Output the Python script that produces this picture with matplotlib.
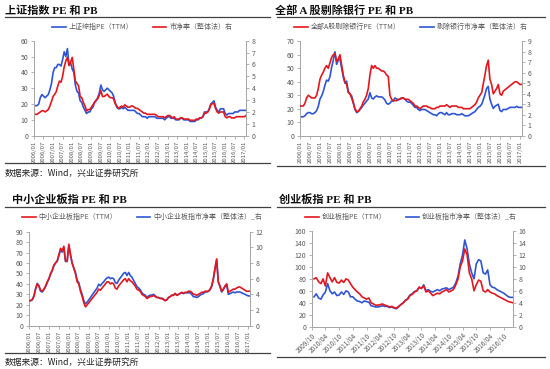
import matplotlib
matplotlib.use("Agg")
import matplotlib.pyplot as plt
import matplotlib.dates as mdates
from matplotlib.lines import Line2D
import pandas as pd

plt.rcParams['font.family'] = ['Noto Sans CJK SC', 'DejaVu Sans']

# ---------------- data (monthly) ----------------
sh_pe = [19,19,19,20,24,26,25,24,25,26,29,33,
         40,43,43,45,45,44,48,53,50,55,45,46,
         42,40,32,28,27,22,21,18,16,14,15,15,
         17,18,21,22,24,27,32,29,28,29,30,29,
         28,27,25,21,18,17,17,18,17,18,17,16,
         16,16,16,16,15,14,14,13,12,12,12,11,
         12,12,12,12,12,11,11,11,11,11,10,11,
         12,12,11,11,11,10,10,10,11,11,10,10,
         10,10,9,9,9,9,10,10,11,11,12,15,
         15,15,17,20,21,22,18,16,15,17,17,17,
         14,13,14,14,14,14,15,15,15,16,16,16,
         16,16]
sh_pb = [1.8,1.8,1.8,1.9,2.0,2.1,2.1,2.0,2.1,2.2,2.5,2.9,
         3.3,3.5,3.7,4.2,4.6,4.5,5.0,5.8,6.3,6.6,5.9,6.2,
         6.6,5.6,4.6,4.4,4.2,3.3,3.2,2.8,2.5,2.1,2.2,2.2,
         2.4,2.6,2.8,3.0,3.1,3.4,3.8,3.3,3.3,3.4,3.5,3.3,
         3.2,3.2,3.1,2.7,2.5,2.3,2.4,2.5,2.4,2.6,2.5,2.4,
         2.4,2.5,2.5,2.4,2.3,2.3,2.2,2.1,2.0,1.9,1.9,1.8,
         1.8,1.8,1.8,1.8,1.8,1.7,1.6,1.6,1.6,1.6,1.5,1.6,
         1.7,1.7,1.6,1.5,1.6,1.4,1.4,1.4,1.5,1.5,1.4,1.4,
         1.4,1.4,1.3,1.3,1.3,1.3,1.4,1.4,1.5,1.5,1.6,1.9,
         1.9,2.0,2.2,2.6,2.7,2.7,2.3,2.0,1.9,2.0,2.0,2.0,
         1.6,1.5,1.6,1.6,1.5,1.5,1.5,1.6,1.6,1.6,1.6,1.6,
         1.6,1.7]

exb_pe = [22,22,22,24,28,30,29,28,28,28,30,35,
          42,45,47,50,52,50,54,58,60,61,55,57,
          60,52,45,40,38,32,31,28,24,20,18,18,
          20,22,25,27,30,35,45,52,50,52,50,50,
          49,48,48,47,45,44,30,27,26,26,26,27,
          27,28,28,27,27,27,26,25,24,22,22,21,
          20,21,22,22,22,21,21,20,20,20,21,21,
          22,22,22,22,23,22,21,22,22,22,22,21,
          21,21,20,20,20,20,20,21,22,23,25,28,
          30,32,38,45,52,56,42,38,31,33,35,38,
          31,30,33,34,35,36,37,38,39,40,40,39,
          38,38]
exb_pb = [1.8,1.8,1.8,1.9,2.1,2.2,2.2,2.1,2.1,2.2,2.4,2.8,
          3.5,3.8,4.2,4.8,5.3,5.2,5.6,6.5,7.2,8.0,6.8,7.2,
          7.3,6.4,5.6,5.0,5.2,4.2,4.0,3.8,3.2,2.5,2.2,2.3,
          2.5,2.7,2.9,3.1,3.3,3.5,4.1,3.6,3.5,3.7,3.8,3.7,
          3.7,3.7,3.6,3.4,3.1,3.0,3.1,3.3,3.3,3.6,3.5,3.4,
          3.5,3.6,3.6,3.5,3.3,3.2,3.2,3.1,2.9,2.7,2.7,2.5,
          2.4,2.5,2.5,2.5,2.4,2.3,2.2,2.1,2.0,2.0,1.9,2.1,
          2.2,2.2,2.1,2.0,2.2,2.0,2.0,2.1,2.1,2.1,2.0,2.0,
          2.0,2.1,2.0,1.9,1.9,1.9,2.0,2.1,2.2,2.3,2.5,2.7,
          2.8,3.0,3.4,3.9,4.5,4.7,3.5,3.0,2.6,2.8,2.9,3.0,
          2.4,2.3,2.5,2.5,2.5,2.6,2.7,2.7,2.7,2.7,2.8,2.7,
          2.7,2.7]

sme_pe = [24,24,25,28,35,40,38,34,33,35,38,42,
          45,50,53,58,60,62,68,74,72,76,62,62,
          78,68,60,55,50,42,40,33,28,22,18,20,
          22,24,26,28,30,32,35,34,36,38,40,42,
          42,40,41,40,36,35,38,40,42,44,45,42,
          45,43,42,40,38,35,34,33,30,29,28,26,
          27,28,28,29,28,27,27,26,26,25,24,25,
          27,28,29,29,31,29,30,31,32,31,32,32,
          33,33,32,30,30,29,30,31,32,32,33,33,
          33,35,38,45,55,64,42,38,33,35,38,40,
          32,33,34,35,35,36,37,37,36,35,34,33,
          33,33]
sme_pb = [3.2,3.2,3.3,3.8,4.7,5.4,5.1,4.4,4.3,4.6,5.0,5.5,
          6.0,6.6,7.0,7.6,8.0,8.2,8.9,9.6,9.4,10.0,8.2,8.2,
          10.2,9.0,8.0,7.4,6.8,5.8,5.5,4.6,4.0,3.2,2.8,3.0,
          3.3,3.6,3.9,4.2,4.5,4.8,5.3,5.1,5.4,5.6,5.9,6.1,
          6.2,6.0,6.1,6.0,5.5,5.4,5.8,6.1,6.4,6.7,6.8,6.4,
          6.8,6.4,6.2,5.8,5.4,5.0,4.8,4.6,4.2,4.0,3.9,3.6,
          3.8,3.9,3.9,4.0,3.8,3.6,3.6,3.5,3.5,3.4,3.2,3.3,
          3.6,3.7,3.9,3.9,4.1,3.9,4.0,4.1,4.2,4.1,4.2,4.2,
          4.2,4.2,4.0,3.7,3.7,3.6,3.7,3.9,4.0,4.1,4.3,4.3,
          4.4,4.6,5.0,5.9,7.2,8.4,5.6,5.0,4.3,4.6,5.0,5.3,
          4.0,4.1,4.2,4.3,4.2,4.3,4.3,4.3,4.2,4.1,4.0,3.9,
          3.8,3.8]

gem_pe = [80,82,
          75,72,80,68,90,82,75,82,74,73,78,74,
          80,78,72,66,62,58,55,50,48,46,48,40,
          38,36,36,37,38,36,35,33,34,32,31,34,
          37,40,44,46,52,54,58,60,66,64,68,58,
          60,56,52,54,56,55,58,60,62,58,60,62,
          70,80,100,110,130,120,90,80,60,70,78,76,
          60,58,62,58,56,55,52,50,48,46,44,42,
          41,40]
gem_pb = [5.0,5.5,
          4.8,4.6,5.3,5.8,7.2,6.0,5.5,5.8,5.2,5.3,5.8,5.4,
          6.0,5.8,5.0,5.0,4.6,4.3,4.2,4.0,4.3,4.2,4.1,3.5,
          3.4,3.3,3.3,3.4,3.5,3.4,3.4,3.2,3.3,3.1,3.0,3.3,
          3.7,4.0,4.4,4.7,5.3,5.5,5.9,6.0,6.6,6.4,7.0,6.0,
          6.2,5.9,5.8,6.0,6.2,6.0,6.3,6.4,6.5,6.2,6.4,6.6,
          7.3,8.5,10.5,12.0,14.5,13.0,10.5,9.0,8.0,10.5,11.2,11.0,
          9.0,8.8,9.5,7.0,6.6,6.5,6.2,6.0,5.8,5.6,5.3,5.0,
          4.9,4.9]

tick_labels_a = ['2006/01','2006/07','2007/01','2007/07','2008/01','2008/07',
                 '2009/01','2009/07','2010/01','2010/07','2011/01','2011/07',
                 '2012/01','2012/07','2013/01','2013/07','2014/01','2014/07',
                 '2015/01','2015/07','2016/01','2016/07','2017/01']
tick_labels_b = ['2009/10','2010/04','2010/10','2011/04','2011/10','2012/04',
                 '2012/10','2013/04','2013/10','2014/04','2014/10','2015/04',
                 '2015/10','2016/04','2016/10']

titles = ['上证指数 PE 和 PB', '全部 A 股剔除银行 PE 和 PB',
          '中小企业板指 PE 和 PB', '创业板指 PE 和 PB']
legend_pe = ['上证综指PE（TTM）', '全部A股剔除银行PE（TTM）',
             '中小企业板指PE（TTM）', '创业板指PE（TTM）']
legend_pb = ['市净率（整体法）右', '剔除银行市净率（整体法）右',
             '中小企业板指市净率（整体法）_右', '创业板指市净率（整体法）_右']
source = '数据来源：Wind，兴业证券研究所'

BLUE = '#2F55D4'
RED = '#E3171E'
AX = '#A6A6A6'
TXT = '#595959'

W, H = 550, 369
fig = plt.figure(figsize=(5.5, 3.69), dpi=100)


def fx(x):
    return x / W


def fy(y):
    return 1 - y / H


def rule(x0, x1, y, lw=0.9, color='#404040'):
    fig.add_artist(Line2D([fx(x0), fx(x1)], [fy(y), fy(y)],
                          transform=fig.transFigure, color=color, lw=lw))


def panel(box, start, pe, pb, pe_color, pb_color, pe_max, pe_step, pb_max, pb_step,
          ticks, rot, leg_pe, leg_pb, leg_x, leg_y, pe_first):
    x0, y0, x1, y1 = box
    ax = fig.add_axes([fx(x0), fy(y1), fx(x1 - x0), (y1 - y0) / H])
    ax2 = ax.twinx()
    dates = pd.date_range(start, periods=len(pe), freq='MS')
    l1, = ax.plot(dates, pe, color=pe_color, lw=1.2, zorder=3 if pe_first else 2)
    l2, = ax2.plot(dates, pb, color=pb_color, lw=1.2)
    if pe_first:
        ax.set_zorder(2)
        ax.patch.set_visible(False)
    ax.set_ylim(0, pe_max)
    ax.set_yticks(range(0, pe_max + 1, pe_step))
    ax2.set_ylim(0, pb_max)
    ax2.set_yticks(range(0, pb_max + 1, pb_step))
    tdates = [pd.Timestamp(t.replace('/', '-') + '-01') for t in ticks]
    ax.set_xlim(tdates[0], dates[-1])
    ax.set_xticks(tdates)
    if rot == 90:
        ax.set_xticklabels(ticks, rotation=90, fontsize=4.3, color=TXT)
    else:
        ax.set_xticklabels(ticks, rotation=45, ha='right', rotation_mode='anchor',
                           fontsize=4.6, color=TXT)
    for a in (ax, ax2):
        a.spines['top'].set_visible(False)
        for s in ('left', 'right', 'bottom'):
            a.spines[s].set_color(AX)
            a.spines[s].set_linewidth(0.7)
        a.tick_params(axis='y', labelsize=5, colors=TXT, length=2, width=0.6, pad=2,
                      color=AX)
        a.tick_params(axis='x', length=2, width=0.6, pad=1.5, color=AX)
    ax.legend([l1, l2], [leg_pe, leg_pb], loc='center', ncol=2, frameon=False,
              bbox_to_anchor=(fx(leg_x), fy(leg_y)),
              bbox_transform=fig.transFigure, fontsize=5, handlelength=2.0,
              columnspacing=2.8, handletextpad=0.4, labelcolor=TXT)
    return ax


title_font = ['Liberation Serif', 'Noto Sans CJK SC']

# panel 1
panel((34, 40.7, 246, 135.7), '2006-01-01', sh_pe, sh_pb, BLUE, RED, 60, 10, 8, 1,
      tick_labels_a, 90, legend_pe[0], legend_pb[0], 142, 27, False)
# panel 2
panel((300, 41.3, 521.7, 135.7), '2006-01-01', exb_pe, exb_pb, RED, BLUE, 70, 10, 9, 1,
      tick_labels_a, 90, legend_pe[1], legend_pb[1], 411, 27, True)
# panel 3
panel((29, 231.7, 250, 325.7), '2006-01-01', sme_pe, sme_pb, RED, BLUE, 90, 10, 12, 2,
      tick_labels_a, 90, legend_pe[2], legend_pb[2], 142, 217, True)
# panel 4
panel((311.7, 231, 513, 326.7), '2009-11-01', gem_pe, gem_pb, RED, BLUE, 160, 20, 16, 2,
      tick_labels_b, 45, legend_pe[3], legend_pb[3], 411, 217, True)

# titles
for (x, y), t in zip([(5, 11), (275, 10.5), (12, 200), (279, 200)], titles):
    fig.text(fx(x), fy(y), t, family=title_font, fontsize=8, fontweight='bold',
             va='center', ha='left', color='#111111')

# rules
rule(5, 270, 17)
rule(277, 545, 17)
rule(5, 270, 163)
rule(277, 545, 166)
rule(5, 270, 207)
rule(277, 545, 207)
rule(5, 270, 353)
rule(277, 545, 357)

# sources
fig.text(fx(5), fy(173.5), source, fontsize=6.3, va='center', ha='left', color='#222222')
fig.text(fx(5), fy(362), source, fontsize=6.3, va='center', ha='left', color='#222222')

fig.savefig('out.png', dpi=100)
